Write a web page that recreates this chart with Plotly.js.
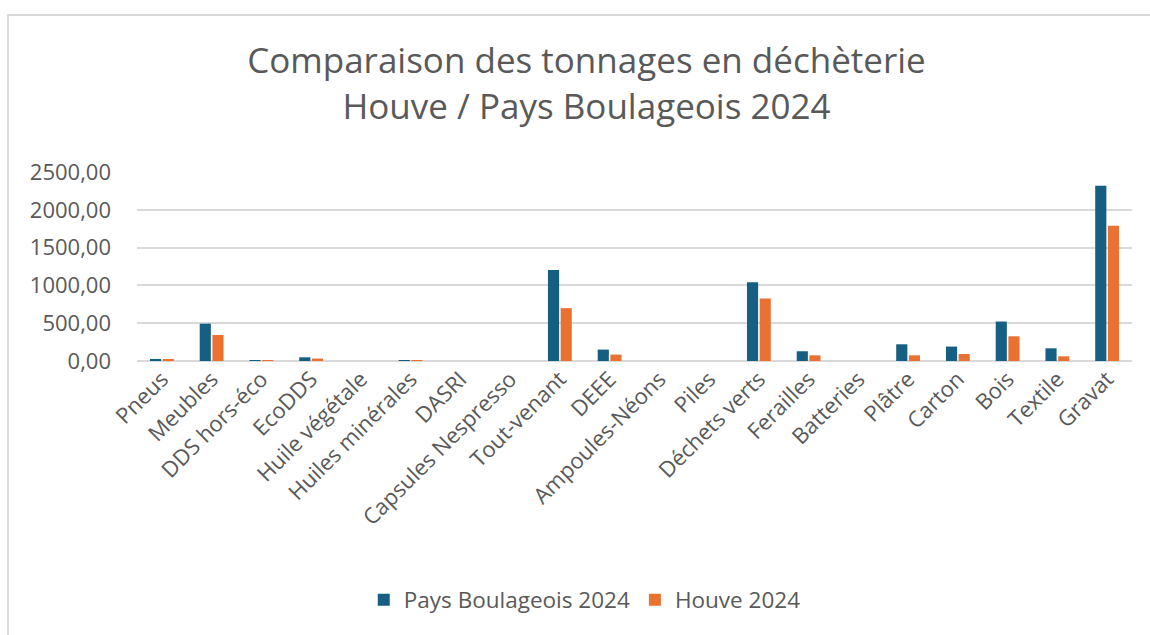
<!DOCTYPE html>
<html>
<head>
<meta charset="utf-8">
<script src="https://cdn.plot.ly/plotly-3.0.1.min.js"></script>
<style>
  html, body { margin: 0; padding: 0; background: #ffffff; overflow: hidden; }
  #chart { width: 1150px; height: 635px; }
  #frame { position: absolute; left: 7px; top: 14px; width: 1200px; height: 700px;
           border: 2px solid #d9d9d9; pointer-events: none; }
</style>
</head>
<body>
<div id="chart"></div>
<div id="frame"></div>
<script>
const categories = ["Pneus", "Meubles", "DDS hors-éco", "EcoDDS", "Huile végétale", "Huiles minérales",
  "DASRI", "Capsules Nespresso", "Tout-venant", "DEEE", "Ampoules-Néons", "Piles", "Déchets verts",
  "Ferailles", "Batteries", "Plâtre", "Carton", "Bois", "Textile", "Gravat"];
const paysBoulageois2024 = [27, 494, 6, 49, 0, 5, 0, 0, 1203, 151, 0, 0, 1043, 129, 0, 221, 191, 522, 168, 2318];
const houve2024 = [15, 344, 5, 32, 0, 2, 0, 0, 699, 85, 0, 0, 827, 75, 0, 75, 93, 327, 62, 1788];
const seriesNames = ["Pays Boulageois 2024", "Houve 2024"];
const titleLines = ["Comparaison des tonnages en déchèterie", "Houve / Pays Boulageois 2024"];

const FONT = "Open Sans, sans-serif";
const GREY = "#595959";

const traces = [
  { type: "bar", name: seriesNames[0], x: categories, y: paysBoulageois2024,
    marker: { color: "#156082" } },
  { type: "bar", name: seriesNames[1], x: categories, y: houve2024,
    marker: { color: "#E97132" } }
];

const layout = {
  width: 1150, height: 635,
  paper_bgcolor: "#ffffff", plot_bgcolor: "#ffffff",
  margin: { l: 137, r: 18, t: 172, b: 274 },
  separators: ", ",
  barmode: "group", bargap: 0.49, bargroupgap: 0.12,
  title: { text: titleLines.join("<br>"), x: 0.51, xanchor: "center",
           y: 0.885, yanchor: "top", yref: "container",
           font: { family: FONT, size: 35, color: GREY } },
  xaxis: { type: "category", tickangle: -45, showgrid: false, showline: false, ticks: "",
           tickfont: { family: FONT, size: 22, color: GREY } },
  yaxis: { range: [0, 2500], tickvals: [0, 500, 1000, 1500, 2000, 2500], tickformat: ".2f",
           gridcolor: "#d9d9d9", gridwidth: 1.5, zeroline: true, zerolinecolor: "#d9d9d9", zerolinewidth: 1.5,
           showline: false, ticks: "", ticklabelstandoff: 25,
           tickfont: { family: FONT, size: 22, color: GREY } },
  showlegend: true,
  legend: { orientation: "h", x: 0.45, xanchor: "center", y: -1.265, yanchor: "middle",
            font: { family: FONT, size: 22.5, color: GREY }, itemwidth: 30, traceorder: "normal" }
};

Plotly.newPlot("chart", traces, layout, { displayModeBar: false, responsive: false });
</script>
</body>
</html>
